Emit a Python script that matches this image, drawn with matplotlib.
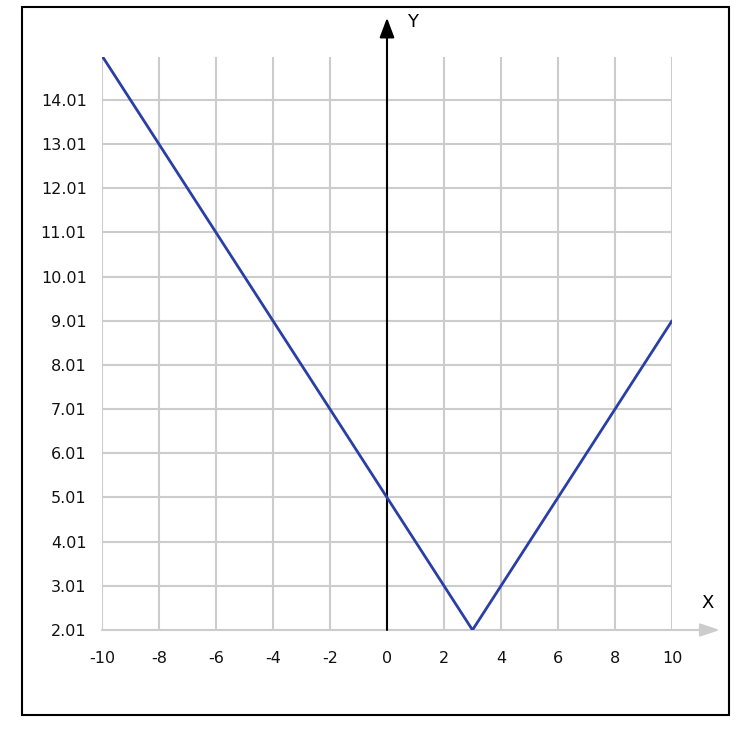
import matplotlib
matplotlib.use("Agg")
import matplotlib.pyplot as plt
from matplotlib.patches import Rectangle

x_vals = [-10, 3, 10]
y_vals = [15.01, 2.01, 9.01]
x_ticks = [-10, -8, -6, -4, -2, 0, 2, 4, 6, 8, 10]
y_ticks = [2.01, 3.01, 4.01, 5.01, 6.01, 7.01, 8.01, 9.01, 10.01, 11.01, 12.01, 13.01, 14.01]
y_tick_labels = [f"{v:.2f}" for v in y_ticks]

plt.rcParams['font.family'] = ['DejaVu Sans']
fig = plt.figure(figsize=(7.5, 7.5), dpi=100)
fig.patch.set_facecolor('white')
ax = fig.add_axes([102/750, 120/750, 570/750, 573/750])
ax.set_xlim(-10, 10)
ax.set_ylim(2.01, 2.01 + 573/44.17)

for s in ax.spines.values():
    s.set_visible(False)

grid_c = '#cccccc'
for xv in x_ticks:
    ax.plot([xv, xv], [2.01, 2.01 + 573/44.17], color=grid_c, lw=1.5, zorder=1)
for yv in y_ticks[1:]:
    ax.plot([-10, 10], [yv, yv], color=grid_c, lw=1.5, zorder=1)

# x axis (gray) with arrow
ax.annotate('', xy=(11.68, 2.01), xytext=(-10, 2.01),
            arrowprops=dict(arrowstyle='-|>,head_length=1.2,head_width=0.4', color=grid_c, lw=1.5,
                            shrinkA=0, shrinkB=0), annotation_clip=False, zorder=2)
# y axis (black) with arrow
ax.annotate('', xy=(0, 15.87), xytext=(0, 2.01),
            arrowprops=dict(arrowstyle='-|>,head_length=1.2,head_width=0.45', color='black', lw=1.5,
                            shrinkA=0, shrinkB=0), annotation_clip=False, zorder=3)

ax.plot(x_vals, y_vals, color='#2a3fa6', lw=2, zorder=4, solid_capstyle='round')

ax.set_xticks(x_ticks)
ax.set_xticklabels([str(v) for v in x_ticks])
ax.set_yticks(y_ticks)
ax.set_yticklabels(y_tick_labels)
ax.tick_params(axis='both', length=0, labelsize=11.5, labelcolor='#111111')
ax.tick_params(axis='x', pad=15)
ax.tick_params(axis='y', pad=11)

ax.text(11.26, 2.62, 'X', fontsize=13, ha='center', va='center', clip_on=False)
ax.text(0.91, 15.77, 'Y', fontsize=13, ha='center', va='center', clip_on=False)

fig.patches.append(Rectangle((22/750, 35/750), 707/750, 708/750, transform=fig.transFigure,
                             fill=False, edgecolor='black', lw=1.5))

fig.savefig('out.png', dpi=100)
